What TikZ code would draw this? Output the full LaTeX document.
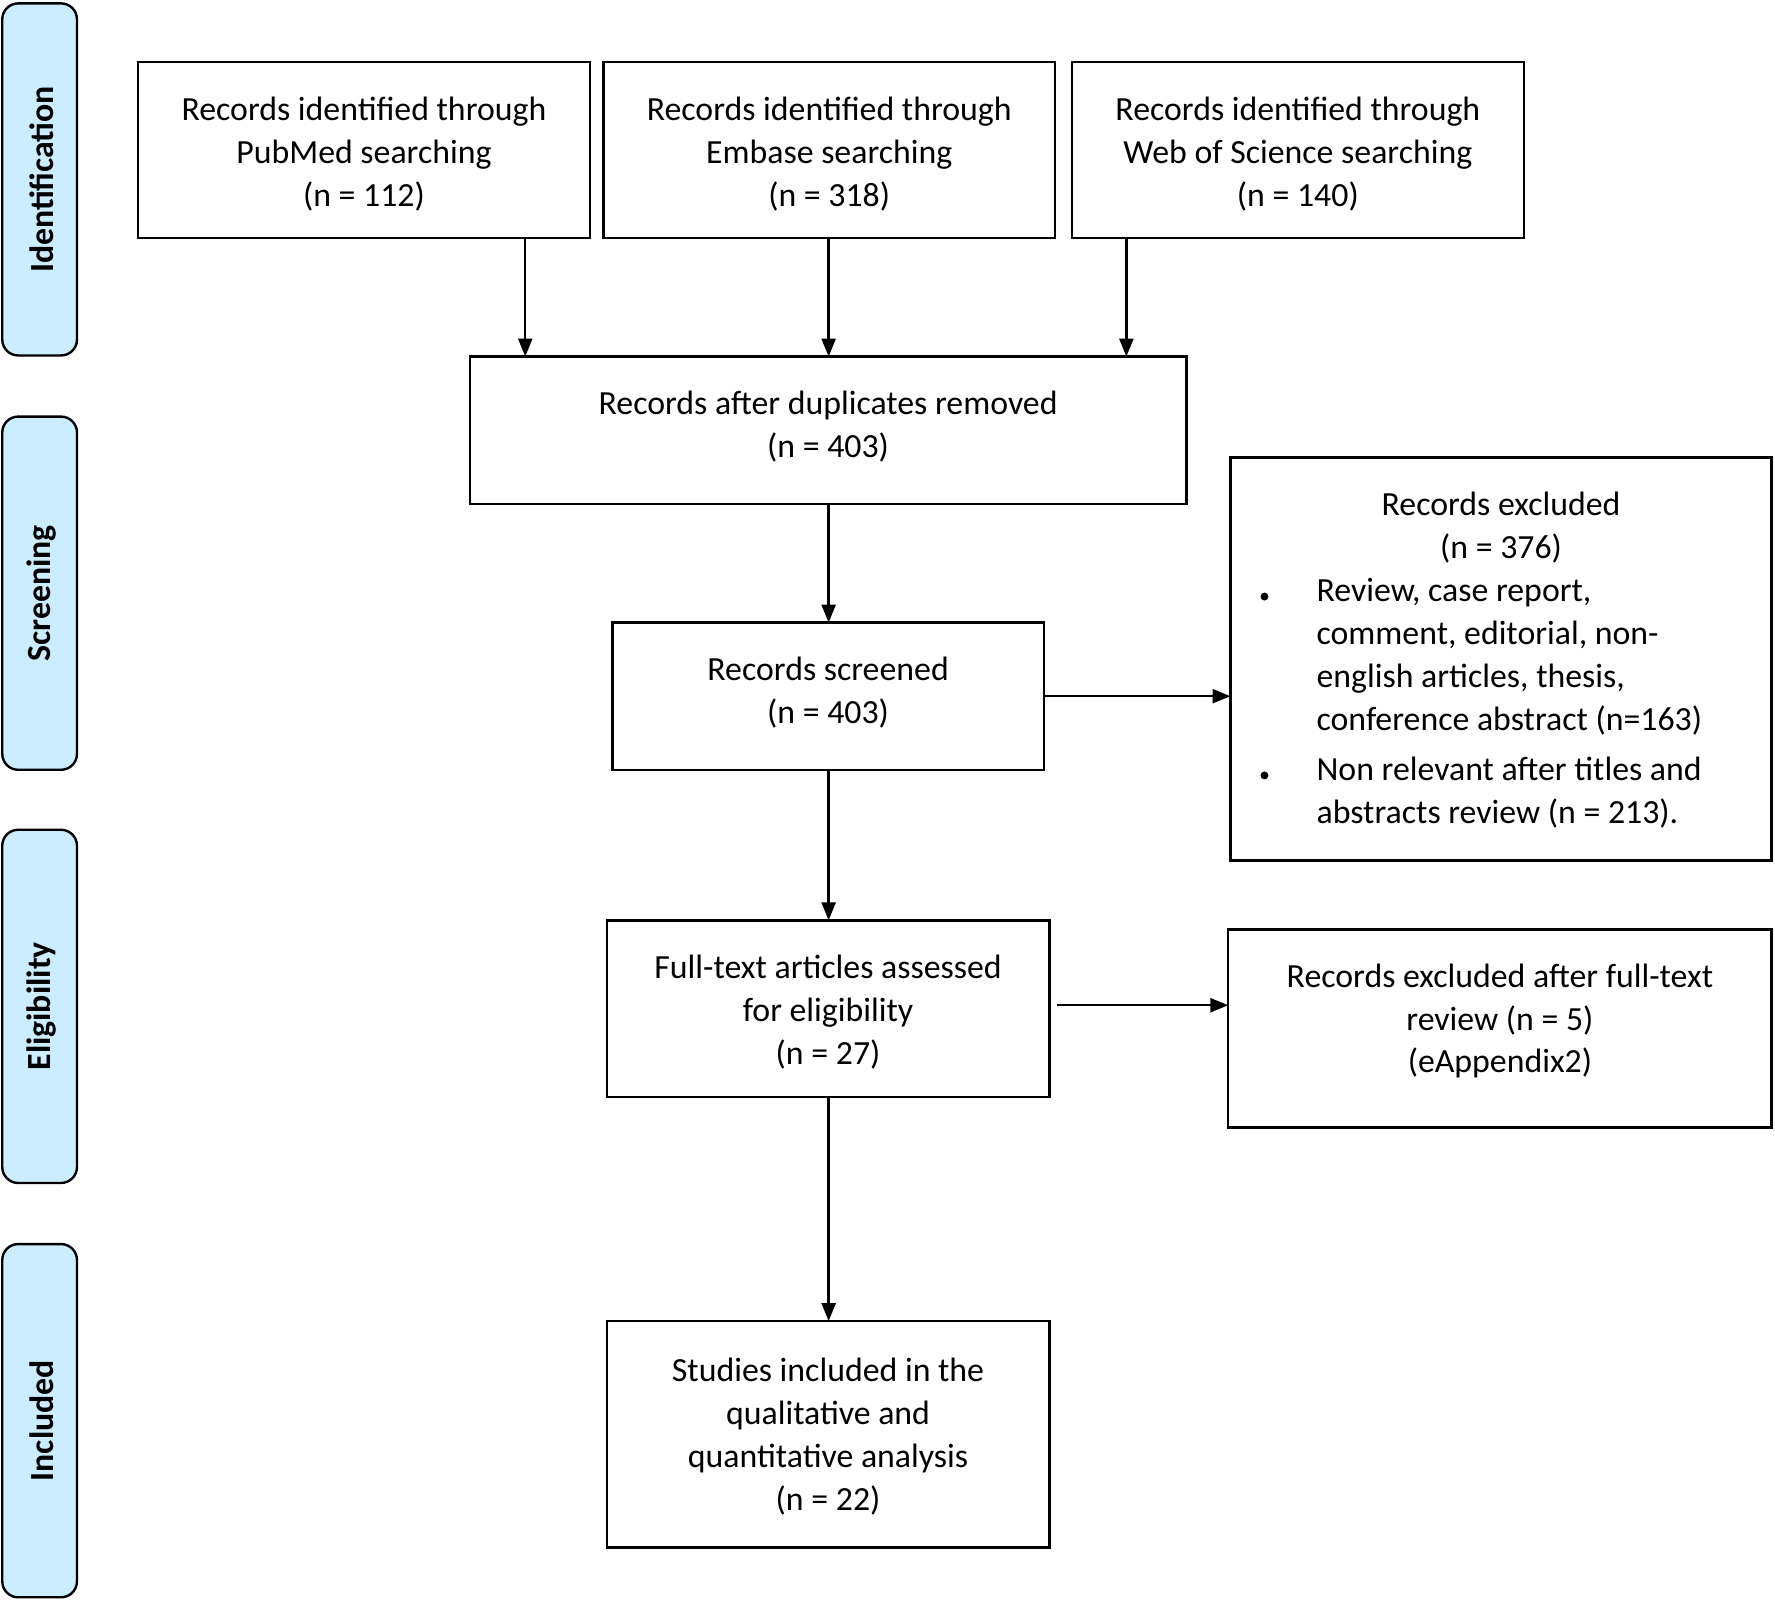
\documentclass[tikz,border=0pt]{standalone}
\usepackage{fontspec}
\setmainfont{Carlito}
\usetikzlibrary{arrows.meta}
\definecolor{tab}{HTML}{CCECFF}
\begin{document}
\begin{tikzpicture}[x=0.02cm,y=-0.02cm,
  box/.style={draw,line width=1.2pt,inner sep=0pt,font=\fontsize{17}{21.5}\selectfont,align=center},
  tabx/.style={draw,line width=1.2pt,fill=tab,rounded corners=8pt},
  tabt/.style={rotate=90,font=\fontsize{17}{21}\selectfont\bfseries},
  arr/.style={line width=1.2pt,-{Triangle[length=9pt,width=7pt]}}]
\useasboundingbox (0,0) rectangle (1568,1413);
\foreach \n/\t/\a/\b in {t1/Identification/3/314,t2/Screening/368/680,t3/Eligibility/733/1045,t4/Included/1099/1411}{
  \draw[tabx] (2,\a) rectangle (68,\b);
  \node[tabt] (\n) at (37,{(\a+\b)/2}) {\t};}
\draw[box] (122,55) rectangle (521,210); \node[box,draw=none] (b1) at (321.5,136) {Records identified through\\PubMed searching\\(n = 112)};
\draw[box] (533,55) rectangle (932,210); \node[box,draw=none] (b2) at (732.5,136) {Records identified through\\Embase searching\\(n = 318)};
\draw[box] (947,55) rectangle (1346,210); \node[box,draw=none] (b3) at (1146.5,136) {Records identified through\\Web of Science searching\\(n = 140)};
\draw[box] (415,315) rectangle (1048,445); \node[box,draw=none] (dup) at (731.5,377) {Records after duplicates removed\\(n = 403)};
\draw[box] (541,550) rectangle (922,680); \node[box,draw=none] (scr) at (731.5,612) {Records screened\\(n = 403)};
\draw[box] (1087,404) rectangle (1565,760);
\node[box,draw=none] (ex1h) at (1326,466) {Records excluded\\(n = 376)};
\node[box,draw=none,align=left,anchor=north west] (ex1a) at (1162,510) {Review, case report,\\comment, editorial, non-\\english articles, thesis,\\conference abstract (n=163)};
\node[box,draw=none,align=left,anchor=north west] (ex1b) at (1162,668) {Non relevant after titles and\\abstracts review (n = 213).};
\fill (1117,527) circle (3.5);
\fill (1117,685) circle (3.5);
\draw[box] (536,813) rectangle (927,969); \node[box,draw=none] (full) at (731.5,894) {Full-text articles assessed\\for eligibility\\(n = 27)};
\draw[box] (1085,821) rectangle (1565,996); \node[box,draw=none] (ex2) at (1325,902) {Records excluded after full-text\\review (n = 5)\\(eAppendix2)};
\draw[box] (536,1167) rectangle (927,1367); \node[box,draw=none] (inc) at (731.5,1269) {Studies included in the\\qualitative and\\quantitative analysis\\(n = 22)};
\coordinate (a1) at (464,210); \coordinate (a1e) at (464,315);
\coordinate (a2) at (732,210); \coordinate (a2e) at (732,315);
\coordinate (a3) at (995,210); \coordinate (a3e) at (995,315);
\draw[arr] (a1) -- (a1e); \draw[arr] (a2) -- (a2e); \draw[arr] (a3) -- (a3e);
\coordinate (d1) at (732,445); \coordinate (d2) at (732,550);
\draw[arr] (d1) -- (d2);
\coordinate (s1) at (922,615); \coordinate (s2) at (1087,615);
\draw[arr] (s1) -- (s2);
\coordinate (s3) at (732,680); \coordinate (s4) at (732,813);
\draw[arr] (s3) -- (s4);
\coordinate (f1) at (934,888); \coordinate (f2) at (1085,888);
\draw[arr] (f1) -- (f2);
\coordinate (f3) at (732,969); \coordinate (f4) at (732,1167);
\draw[arr] (f3) -- (f4);
\end{tikzpicture}
\end{document}
